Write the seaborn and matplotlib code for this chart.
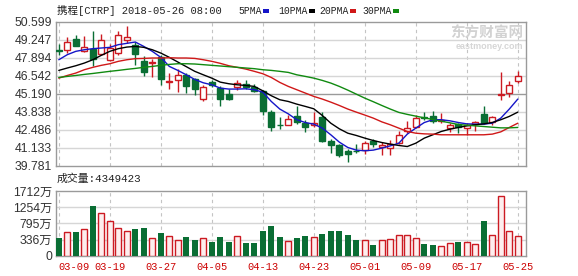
import numpy as np
import pandas as pd
import matplotlib
matplotlib.use("Agg")
import matplotlib.pyplot as plt
from matplotlib.patches import Rectangle
import seaborn as sns

# ---------------- data ----------------
dates = ["03-09", "03-12", "03-13", "03-14", "03-15", "03-16", "03-19", "03-20", "03-21", "03-22",
         "03-23", "03-26", "03-27", "03-28", "03-29", "04-02", "04-03", "04-04", "04-05", "04-06",
         "04-09", "04-10", "04-11", "04-12", "04-13", "04-16", "04-17", "04-18", "04-19", "04-20",
         "04-23", "04-24", "04-25", "04-26", "04-27", "04-30", "05-01", "05-02", "05-03", "05-04",
         "05-07", "05-08", "05-09", "05-10", "05-11", "05-14", "05-15", "05-16", "05-17", "05-18",
         "05-21", "05-22", "05-23", "05-24", "05-25"]

opens = [48.47, 48.43, 49.28, 48.36, 48.53, 48.18, 47.68, 48.23, 49.23, 48.86,
         47.66, 47.49, 47.91, 46.07, 46.18, 46.55, 46.28, 44.80, 46.05, 45.60,
         45.15, 45.68, 45.90, 45.68, 45.35, 43.80, 42.85, 42.85, 43.48, 42.97,
         42.80, 43.40, 41.60, 41.35, 40.92, 40.90, 40.97, 41.65, 41.17, 41.10,
         41.47, 42.42, 42.72, 43.45, 43.48, 43.15, 42.60, 42.92, 42.60, 42.92,
         43.65, 43.05, 45.12, 45.23, 46.10]
highs = [48.91, 49.41, 49.56, 49.48, 49.86, 49.66, 48.91, 49.91, 50.24, 49.03,
         47.98, 47.81, 48.06, 46.73, 47.03, 46.73, 46.35, 45.85, 46.23, 45.73,
         45.55, 46.23, 46.18, 45.93, 45.48, 43.98, 43.43, 43.60, 44.23, 43.23,
         43.78, 43.78, 41.80, 41.40, 41.02, 41.40, 41.67, 41.77, 41.55, 41.72,
         42.35, 43.10, 43.60, 43.78, 43.85, 43.73, 42.97, 43.02, 42.97, 43.15,
         44.23, 43.48, 46.78, 46.10, 46.85]
lows = [48.10, 48.23, 48.73, 48.28, 47.28, 48.11, 47.61, 48.06, 48.98, 47.36,
        46.48, 46.43, 45.85, 45.55, 45.30, 45.23, 45.10, 44.60, 45.68, 44.28,
        44.73, 45.48, 45.55, 45.30, 43.55, 42.35, 42.52, 42.80, 42.92, 42.30,
        42.67, 41.55, 40.72, 40.47, 40.05, 40.72, 40.65, 41.17, 40.55, 40.60,
        41.40, 42.22, 42.60, 43.23, 43.02, 43.02, 42.30, 42.22, 42.10, 42.40,
        42.90, 42.85, 44.70, 44.90, 45.98]
closes = [48.38, 49.06, 48.78, 48.66, 47.81, 49.18, 48.61, 49.56, 49.43, 48.18,
          46.78, 47.54, 46.30, 46.13, 46.60, 45.78, 45.55, 45.68, 45.85, 44.80,
          44.80, 45.98, 45.65, 45.40, 43.90, 42.65, 42.80, 43.30, 43.05, 42.65,
          42.97, 41.65, 41.30, 40.55, 40.67, 40.85, 41.52, 41.42, 41.35, 41.40,
          42.10, 42.60, 43.35, 43.35, 43.10, 43.22, 42.80, 42.72, 42.80, 43.05,
          42.97, 43.43, 45.18, 45.85, 46.53]

ma5 = [47.73, 48.11, 48.36, 48.48, 48.56, 48.61, 48.66, 48.86, 48.96, 49.06,
       48.73, 48.36, 47.91, 47.23, 46.93, 46.60, 46.25, 46.00, 45.85, 45.60,
       45.53, 45.53, 45.55, 45.48, 45.30, 44.60, 44.03, 43.67, 43.23, 43.02,
       42.90, 42.60, 42.10, 41.55, 41.15, 40.95, 40.90, 40.95, 41.10, 41.27,
       41.47, 42.15, 42.60, 43.02, 43.23, 43.23, 43.15, 43.02, 42.92, 42.90,
       42.90, 42.97, 43.35, 44.03, 44.78]
ma10 = [46.93, 47.11, 47.28, 47.48, 47.73, 48.06, 48.36, 48.56, 48.68, 48.73,
        48.66, 48.48, 48.23, 47.91, 47.56, 47.21, 46.86, 46.60, 46.35, 46.05,
        45.93, 45.85, 45.80, 45.73, 45.40, 45.03, 44.73, 44.60, 44.40, 44.23,
        44.05, 43.55, 42.97, 42.55, 42.22, 42.05, 41.85, 41.67, 41.52, 41.40,
        41.30, 41.22, 41.47, 41.85, 42.10, 42.35, 42.52, 42.65, 42.77, 42.85,
        42.92, 43.02, 43.23, 43.48, 43.80]
ma20 = [46.35, 46.55, 46.73, 46.98, 47.16, 47.31, 47.43, 47.61, 47.73, 47.81,
        47.83, 47.86, 47.86, 47.88, 47.86, 47.86, 47.83, 47.73, 47.61, 47.46,
        47.28, 47.16, 47.03, 46.86, 46.68, 46.40, 46.03, 45.73, 45.48, 45.23,
        44.98, 44.78, 44.55, 44.30, 44.03, 43.80, 43.58, 43.35, 43.07, 42.85,
        42.60, 42.35, 42.22, 42.17, 42.15, 42.10, 42.10, 42.10, 42.10, 42.10,
        42.10, 42.15, 42.32, 42.65, 42.97]
ma30 = [46.40, 46.48, 46.55, 46.63, 46.70, 46.78, 46.86, 46.93, 47.01, 47.08,
        47.16, 47.23, 47.31, 47.38, 47.43, 47.43, 47.41, 47.36, 47.31, 47.26,
        47.21, 47.16, 47.11, 47.06, 46.98, 46.93, 46.86, 46.78, 46.60, 46.48,
        46.35, 46.18, 45.98, 45.73, 45.45, 45.15, 44.85, 44.58, 44.30, 44.03,
        43.78, 43.63, 43.50, 43.37, 43.25, 43.12, 43.00, 42.87, 42.82, 42.77,
        42.72, 42.67, 42.62, 42.62, 42.65]

volumes = [395, 547, 564, 640, 1298, 1083, 866, 669, 584, 640,
           677, 395, 528, 443, 330, 424, 330, 387, 283, 424,
           283, 443, 254, 254, 584, 734, 424, 302, 395, 452,
           424, 499, 593, 593, 471, 330, 330, 189, 330, 358,
           471, 471, 395, 217, 189, 161, 236, 283, 283, 226,
           866, 471, 1571, 584, 435]

price_ticks = [39.781, 41.133, 42.486, 43.838, 45.190, 46.542, 47.894, 49.247, 50.599]
vol_tick_labels = ["0", "336万", "795万", "1254万", "1712万"]
vol_ticks = [-122.5, 336.5, 795.0, 1253.5, 1712.0]
title_text = "携程[CTRP] 2018-05-26 08:00"
legend_items = [("5PMA", "#1515c8"), ("10PMA", "#000000"), ("20PMA", "#d01818"), ("30PMA", "#108a10")]
volume_text = "成交量:4349423"

# ---------------- style ----------------
RED = "#cc1a22"
GREEN = "#0a6e34"
W, H = 578, 276

sns.set_theme(style="white")
plt.rcParams["font.family"] = ["Liberation Sans", "Noto Sans CJK SC"]

df = pd.DataFrame({"i": np.arange(len(dates)), "date": dates, "open": opens, "high": highs,
                   "low": lows, "close": closes, "vol": volumes,
                   "ma5": ma5, "ma10": ma10, "ma20": ma20, "ma30": ma30})
df["up"] = df["close"] >= df["open"]
# bar height measured from the panel floor (the "0" line of the volume panel)
df["vol_h"] = df["vol"] - vol_ticks[0]

fig = plt.figure(figsize=(W / 100, H / 100), dpi=100)
fig.patch.set_facecolor("white")


def fx(x):
    return x / W


def fy(y):
    return 1 - y / H


L, R = 55.5, 525.7
x0_px, step_px = 58.8, 8.5
xlim = (-(x0_px - L) / step_px, (len(dates) - 1) + (R - (x0_px + step_px * (len(dates) - 1))) / step_px)

ax = fig.add_axes([fx(L), fy(165.7), fx(R) - fx(L), fy(21.5) - fy(165.7)])
axv = fig.add_axes([fx(L), fy(256), fx(R) - fx(L), fy(191) - fy(256)])

for a in (ax, axv):
    a.set_facecolor("white")
    for s in a.spines.values():
        s.set_color("#9a9a9a")
        s.set_linewidth(1.0)
    for gx in range(0, len(dates), 6):
        a.axvline(gx, color="#c4c4c4", lw=0.8, ls=(0, (3, 3)), zorder=0)

# ---------------- price panel ----------------
ax.set_ylim(price_ticks[0], price_ticks[-1])
ax.set_xlim(*xlim)
for t in price_ticks[1:-1]:
    ax.axhline(t, color="#9a9a9a" if abs(t - 45.190) < 1e-6 else "#d6d6d6", lw=1.0, zorder=0)

for _, r in df.iterrows():
    c = RED if r["up"] else GREEN
    ax.plot([r["i"], r["i"]], [r["low"], r["high"]], color=c, lw=1.0, zorder=2, solid_capstyle="butt")
bw = 0.72
for _, r in df.iterrows():
    lo = min(r["open"], r["close"])
    h = max(abs(r["close"] - r["open"]), 0.02)
    if r["up"]:
        ax.bar(r["i"], h, bottom=lo, width=bw, facecolor="white", edgecolor=RED, lw=1.0, zorder=3)
    else:
        ax.bar(r["i"], h, bottom=lo, width=bw, facecolor=GREEN, edgecolor=GREEN, lw=1.0, zorder=3)

for col, colr in zip(["ma5", "ma10", "ma20", "ma30"], [c for _, c in legend_items]):
    sns.lineplot(data=df, x="i", y=col, ax=ax, color=colr, lw=1.0, zorder=4)

ax.set_yticks(price_ticks)
ax.set_yticklabels([f"{t:.3f}" for t in price_ticks], fontsize=8.8, color="#333333")
ax.set_xticks([])
ax.set_xlabel("")
ax.set_ylabel("")
ax.tick_params(axis="y", length=0, pad=2.5)

ax.text(0.995, 0.925, "东方财富网", transform=ax.transAxes, ha="right", va="center",
        fontsize=10.5, fontweight="bold", color="#d2d2d2", family=["Noto Sans CJK SC"], zorder=1)
ax.text(0.995, 0.83, "eastmoney.com", transform=ax.transAxes, ha="right", va="center",
        fontsize=6.5, fontweight="bold", color="#d6d6d6", zorder=1)

# ---------------- volume panel ----------------
axv.set_xlim(*xlim)
axv.set_ylim(vol_ticks[0], vol_ticks[-1])
for t in vol_ticks[1:-1]:
    axv.axhline(t, color="#d6d6d6", lw=1.0, zorder=0)

up_df = df[df["up"]]
dn_df = df[~df["up"]]
sns.barplot(data=dn_df, x="i", y="vol_h", native_scale=True, ax=axv, color=GREEN,
            width=0.74, bottom=vol_ticks[0], zorder=3, saturation=1, linewidth=0)
n_before = len(axv.patches)
sns.barplot(data=up_df, x="i", y="vol_h", native_scale=True, ax=axv, color=RED,
            width=0.66, bottom=vol_ticks[0], zorder=3, saturation=1)
for p in axv.patches[n_before:]:
    p.set_facecolor("#fdeeee")
    p.set_edgecolor(RED)
    p.set_linewidth(1.0)
for p in axv.patches[:n_before]:
    p.set_facecolor(GREEN)
    p.set_edgecolor(GREEN)

axv.set_xlim(*xlim)
axv.set_ylim(vol_ticks[0], vol_ticks[-1])
axv.set_yticks(vol_ticks)
axv.set_yticklabels(vol_tick_labels, fontsize=8.8, color="#333333",
                    family=["Liberation Sans", "Noto Sans CJK SC"])
tick_idx = list(range(0, len(dates), 6))
axv.set_xticks(tick_idx)
axv.set_xticklabels([dates[i] for i in tick_idx], fontsize=7.5, color="#cc0000",
                    family=["Liberation Mono"])
axv.get_xticklabels()[0].set_ha("left")
axv.tick_params(axis="y", length=0, pad=2.5)
axv.tick_params(axis="x", length=0, pad=4)
axv.set_xlabel("")
axv.set_ylabel("")

# ---------------- header texts ----------------
fig.text(fx(57), fy(10.5), title_text, ha="left", va="center", fontsize=7.6, color="#222222",
         family=["Liberation Mono", "Noto Sans CJK SC"])
leg_x = [238, 278, 319, 362]
for (lab, colr), lx in zip(legend_items, leg_x):
    fig.text(fx(lx), fy(10.5), lab, ha="left", va="center", fontsize=7.0, color="#222222",
             family=["Liberation Mono"])
    rx = lx + len(lab) * 5.85 + 2
    fig.patches.append(Rectangle((fx(rx), fy(12.5)), 6 / W, 3.5 / H, transform=fig.transFigure,
                                 facecolor=colr, edgecolor="none"))

fig.text(fx(57), fy(179), volume_text, ha="left", va="center", fontsize=7.8, color="#222222",
         family=["Liberation Mono", "Noto Sans CJK SC"])

fig.savefig("out.png", dpi=100, facecolor="white")
